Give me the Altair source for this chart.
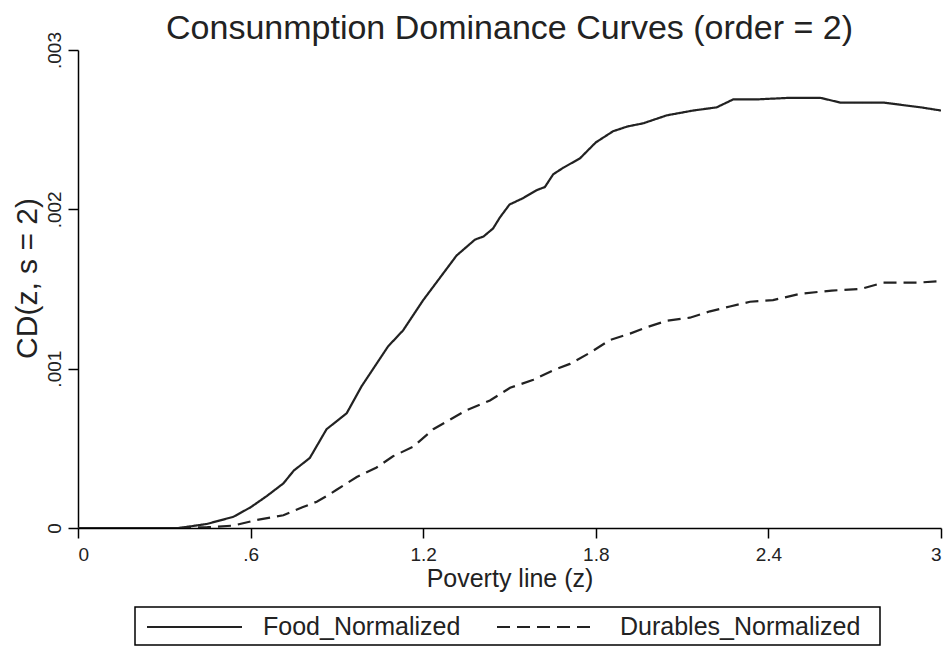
import altair as alt
import pandas as pd

# Food_Normalized curve (poverty line z, CD value)
food_z = [0.0, 0.2, 0.35, 0.447, 0.54, 0.6, 0.656, 0.714, 0.75, 0.806, 0.864, 0.934, 0.986,
          1.078, 1.13, 1.2, 1.258, 1.316, 1.38, 1.41, 1.443, 1.467, 1.5, 1.547, 1.594, 1.623,
          1.652, 1.686, 1.745, 1.8, 1.86, 1.91, 1.965, 2.047, 2.138, 2.22, 2.278, 2.36, 2.475,
          2.58, 2.65, 2.8, 2.93, 3.0]
food_v = [0.0, 0.0, 0.0, 0.000025, 0.00007, 0.00013, 0.0002, 0.00028, 0.00036, 0.00044, 0.00062,
          0.00072, 0.00089, 0.00114, 0.00124, 0.00143, 0.00157, 0.00171, 0.00181, 0.00183, 0.00188,
          0.00195, 0.00203, 0.00207, 0.00212, 0.00214, 0.00222, 0.00226, 0.00232, 0.00242, 0.00249,
          0.00252, 0.00254, 0.00259, 0.00262, 0.00264, 0.00269, 0.00269, 0.0027, 0.0027, 0.00267,
          0.00267, 0.00264, 0.00262]

# Durables_Normalized curve
dur_z = [0.0, 0.2, 0.35, 0.45, 0.54, 0.62, 0.714, 0.78, 0.83, 0.864, 0.899, 0.969, 1.038, 1.095,
         1.165, 1.235, 1.293, 1.351, 1.432, 1.502, 1.583, 1.652, 1.71, 1.78, 1.849, 1.919, 1.977,
         2.046, 2.127, 2.197, 2.266, 2.336, 2.416, 2.51, 2.62, 2.72, 2.8, 2.92, 3.0]
dur_v = [0.0, 0.0, 0.0, 0.000005, 0.000015, 0.00005, 0.00008, 0.00013, 0.000165, 0.0002, 0.00024,
         0.00032, 0.00038, 0.00045, 0.00051, 0.00062, 0.00068, 0.00074, 0.0008, 0.00088, 0.00093,
         0.00099, 0.00103, 0.0011, 0.00118, 0.00122, 0.00126, 0.0013, 0.00132, 0.00136, 0.00139,
         0.00142, 0.00143, 0.00147, 0.00149, 0.0015, 0.00154, 0.00154, 0.00155]

series_names = ["Food_Normalized", "Durables_Normalized"]
x_ticks = [0, 0.6, 1.2, 1.8, 2.4, 3]
y_ticks = [0, 0.001, 0.002, 0.003]

df = pd.concat([
    pd.DataFrame({"z": food_z, "v": food_v, "series": series_names[0]}),
    pd.DataFrame({"z": dur_z, "v": dur_v, "series": series_names[1]}),
])

FONT = "Liberation Sans"
LINE = "#222222"
SOLID = [1, 0]
DASH = [13, 7]
label_expr = "datum.value == 0 ? '0' : replace(format(datum.value, '~g'), '0.', '.')"

lines = alt.Chart(df).mark_line(color=LINE, strokeWidth=2.2, clip=True).encode(
    x=alt.X("z:Q",
            scale=alt.Scale(domain=[0, 3], nice=False, zero=False),
            axis=alt.Axis(title="Poverty line (z)", values=x_ticks, labelExpr=label_expr,
                          grid=False, tickSize=10, labelPadding=7, titlePadding=2,
                          labelFontSize=19, titleFontSize=25, titleFontWeight="normal")),
    y=alt.Y("v:Q",
            scale=alt.Scale(domain=[0, 0.003], nice=False),
            axis=alt.Axis(title="CD(z, s = 2)", values=y_ticks, labelExpr=label_expr,
                          grid=False, tickSize=10, labelPadding=4, titlePadding=3,
                          titleY=228,
                          labelAngle=270, labelFontSize=19, titleFontSize=30,
                          titleFontWeight="normal")),
    strokeDash=alt.StrokeDash("series:N",
                              scale=alt.Scale(domain=series_names, range=[SOLID, DASH]),
                              legend=None),
    order=alt.Order("z:Q"),
)

# Legend drawn as a boxed key below the plot
one = pd.DataFrame({"series": [series_names[0]]})
two = pd.DataFrame({"series": [series_names[1]]})

box = alt.Chart(one).mark_rect(fill="#ffffff", stroke="#000000", strokeWidth=1.5).encode(
    x=alt.value(57), x2=alt.value(802), y=alt.value(557), y2=alt.value(595))
sym1 = alt.Chart(one).mark_rule(color=LINE, strokeWidth=2, strokeDash=SOLID).encode(
    x=alt.value(69), x2=alt.value(164), y=alt.value(577))
sym2 = alt.Chart(two).mark_rule(color=LINE, strokeWidth=2, strokeDash=DASH).encode(
    x=alt.value(419), x2=alt.value(519), y=alt.value(577))
lab1 = alt.Chart(one).mark_text(align="left", baseline="middle", fontSize=25, color=LINE,
                                font=FONT).encode(
    text="series:N", x=alt.value(185), y=alt.value(577))
lab2 = alt.Chart(two).mark_text(align="left", baseline="middle", fontSize=25, color=LINE,
                                font=FONT).encode(
    text="series:N", x=alt.value(542), y=alt.value(577))

chart = alt.layer(lines, box, sym1, sym2, lab1, lab2).properties(
    width=863,
    height=478,
    padding={"left": 70, "top": 42, "right": 3, "bottom": 118},
    autosize=alt.AutoSizeParams(type="none"),
    title=alt.TitleParams("Consunmption Dominance Curves (order = 2)", fontSize=34,
                          fontWeight="normal", anchor="middle", frame="group",
                          color="#222222", offset=-14),
).configure(font=FONT).configure_view(stroke=None).configure_axis(
    domainColor="#000000", tickColor="#000000", domainWidth=1.5, tickWidth=1.5,
    labelColor="#222222", titleColor="#222222", labelFont=FONT, titleFont=FONT,
)

chart.save("out.html", embed_options={"renderer": "svg", "actions": False})
